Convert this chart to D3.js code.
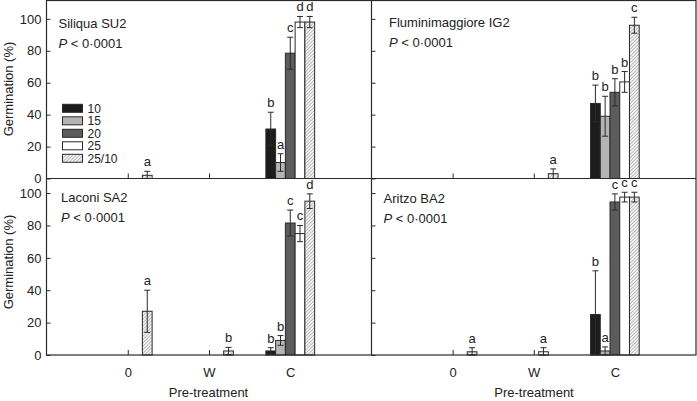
<!DOCTYPE html>
<html><head><meta charset="utf-8">
<script src="https://cdn.jsdelivr.net/npm/d3@7"></script>
<style>
html,body{margin:0;padding:0;background:#fff;}
svg{display:block;font-family:"Liberation Sans",Arial,Helvetica,sans-serif;}
</style></head>
<body>
<script>
// ---- data ----
const categories = ["0", "W", "C"];
const seriesNames = ["10", "15", "20", "25", "25/10"];
const yTicks = [0, 20, 40, 60, 80, 100];

// rows = series (10,15,20,25,25/10), columns = categories (0,W,C)
const siliquaMean = [[0,0,31],[0,0,10],[0,0,78.5],[0,0,98],[2,0,98]];
const siliquaErr  = [[0,0,10.5],[0,0,5.5],[0,0,10],[0,0,3.5],[2.5,0,3.5]];
const siliquaLetters = [["","","b"],["","","a"],["","","c"],["","","d"],["a","","d"]];

const flumiMean = [[0,0,47],[0,0,39],[0,0,54],[0,0,60.5],[0,3,96]];
const flumiErr  = [[0,0,11.5],[0,0,12.5],[0,0,8.5],[0,0,6.5],[0,3,5]];
const flumiLetters = [["","","b"],["","","b"],["","","b"],["","","b"],["","a","c"]];

const laconiMean = [[0,0,2.5],[0,0,9],[0,0,81.5],[0,0,75],[27,2.5,95]];
const laconiErr  = [[0,0,2],[0,0,3],[0,0,8],[0,0,5],[13,2.2,4.5]];
const laconiLetters = [["","","b"],["","","b"],["","","c"],["","","c"],["a","b","d"]];

const aritzoMean = [[0,0,25],[0,0,2.5],[0,0,94.5],[0,2,97.5],[2,0,97.5]];
const aritzoErr  = [[0,0,27],[0,0,2.5],[0,0,5],[0,2.5,3],[2.5,0,3]];
const aritzoLetters = [["","","b"],["","","a"],["","","c"],["","a","c"],["a","","c"]];

const panelTitles = ["Siliqua SU2", "Fluminimaggiore IG2", "Laconi SA2", "Aritzo BA2"];

// ---- layout ----
const W = 697, H = 401;
const colX = [[46.5, 371.5], [371.5, 696]];
const rowY = [[178.5, 0.5, 111.5], [355, 178.5, 109]]; // [y0 px, top px, domain max]
const fills = ["#1c1c1c", "#b4b4b4", "#5c5c5c", "#ffffff", "url(#hatch)"];
const ink = "#2a2a2a";

const svg = d3.select("body").append("svg").attr("width", W).attr("height", H);
const defs = svg.append("defs");
const pat = defs.append("pattern").attr("id", "hatch").attr("patternUnits", "userSpaceOnUse")
  .attr("width", 2.4).attr("height", 2.4).attr("patternTransform", "rotate(45)");
pat.append("rect").attr("width", 2.4).attr("height", 2.4).attr("fill", "#f4f4f4");
pat.append("line").attr("x1", 0).attr("y1", 0).attr("x2", 0).attr("y2", 2.4)
  .attr("stroke", "#808080").attr("stroke-width", 0.9);

const panels = [
  {col: 0, row: 0, mean: siliquaMean, err: siliquaErr, letters: siliquaLetters, title: panelTitles[0], tx: 58.5, ty: 27.7, py: 47.7},
  {col: 1, row: 0, mean: flumiMean, err: flumiErr, letters: flumiLetters, title: panelTitles[1], tx: 389, ty: 26.5, py: 46.7},
  {col: 0, row: 1, mean: laconiMean, err: laconiErr, letters: laconiLetters, title: panelTitles[2], tx: 61, ty: 201.5, py: 221.7},
  {col: 1, row: 1, mean: aritzoMean, err: aritzoErr, letters: aritzoLetters, title: panelTitles[3], tx: 383.5, ty: 203.3, py: 222.7}
];

const barW = 0.12;

panels.forEach(p => {
  const [x0, x1] = colX[p.col];
  const [yb, yt, ymax] = rowY[p.row];
  const x = d3.scaleLinear().domain([0, 4]).range([x0, x1]);
  const y = d3.scaleLinear().domain([0, ymax]).range([yb, yt]);
  const g = svg.append("g");

  // y axis
  const ya = d3.axisLeft(y).tickValues(yTicks).tickSizeInner(-4).tickSizeOuter(0).tickPadding(5);
  if (p.col === 1) ya.tickFormat("");
  const yg = g.append("g").attr("transform", `translate(${x0},0)`).call(ya);
  yg.select(".domain").remove();
  yg.selectAll("line").attr("stroke", ink);
  yg.selectAll("text").attr("font-size", 13).attr("fill", "#222").attr("font-family", "Liberation Sans, Arial, sans-serif");

  // x axis
  const xa = d3.axisBottom(x).tickValues([1, 2, 3]).tickFormat((d, i) => categories[i])
    .tickSizeInner(-5).tickSizeOuter(0).tickPadding(12.5);
  if (p.row === 0) xa.tickFormat("");
  const xg = g.append("g").attr("transform", `translate(0,${yb})`).call(xa);
  xg.select(".domain").remove();
  xg.selectAll("line").attr("stroke", ink);
  xg.selectAll("text").attr("font-size", 13).attr("fill", "#222").attr("font-family", "Liberation Sans, Arial, sans-serif");

  // bars
  const items = [];
  seriesNames.forEach((s, si) => {
    categories.forEach((c, ci) => {
      items.push({si, ci, v: p.mean[si][ci], e: p.err[si][ci], l: p.letters[si][ci]});
    });
  });
  const cx = d => x(d.ci + 1 + (d.si - 2) * barW);
  const bars = items.filter(d => d.v > 0);
  g.selectAll("rect.bar").data(bars).enter().append("rect").attr("class", "bar")
    .attr("x", d => cx(d) - (x(barW) - x(0)) / 2)
    .attr("width", x(barW) - x(0))
    .attr("y", d => y(d.v))
    .attr("height", d => y(0) - y(d.v))
    .attr("fill", d => fills[d.si])
    .attr("stroke", ink).attr("stroke-width", 1);

  // error bars
  const eb = bars.filter(d => d.e > 0);
  const cap = 3;
  g.selectAll("path.err").data(eb).enter().append("path").attr("class", "err")
    .attr("d", d => {
      const xc = cx(d), t = y(d.v + d.e), b = y(Math.max(0, d.v - d.e));
      return `M${xc},${t}V${b}M${xc - cap},${t}H${xc + cap}M${xc - cap},${b}H${xc + cap}`;
    })
    .attr("fill", "none").attr("stroke", ink).attr("stroke-width", 1);

  // letters
  g.selectAll("text.let").data(items.filter(d => d.l)).enter().append("text").attr("class", "let")
    .attr("x", d => cx(d)).attr("y", d => y(d.v + d.e) - 5)
    .attr("text-anchor", "middle").attr("font-size", 13).attr("fill", "#222")
    .text(d => d.l);

  // titles
  g.append("text").attr("x", p.tx).attr("y", p.ty).attr("font-size", 13).attr("fill", "#222").text(p.title);
  const pt = g.append("text").attr("x", p.tx).attr("y", p.py).attr("font-size", 13).attr("fill", "#222");
  pt.append("tspan").attr("font-style", "italic").text("P");
  pt.append("tspan").text(" < 0·0001");
});

// frame
const frame = svg.append("g").attr("stroke", ink).attr("stroke-width", 1.2).attr("fill", "none");
frame.append("rect").attr("x", colX[0][0]).attr("y", rowY[0][1]).attr("width", colX[1][1] - colX[0][0]).attr("height", rowY[1][0] - rowY[0][1]);
frame.append("line").attr("x1", colX[0][1]).attr("x2", colX[0][1]).attr("y1", rowY[0][1]).attr("y2", rowY[1][0]);
frame.append("line").attr("x1", colX[0][0]).attr("x2", colX[1][1]).attr("y1", rowY[0][0]).attr("y2", rowY[0][0]);

// legend
const leg = svg.append("g");
seriesNames.forEach((s, i) => {
  const yy = 108.3 + i * 12.5;
  leg.append("rect").attr("x", 62.5).attr("y", yy - 4).attr("width", 20).attr("height", 8)
    .attr("fill", fills[i]).attr("stroke", ink).attr("stroke-width", 1);
  leg.append("text").attr("x", 87.5).attr("y", yy).attr("dy", "0.36em").attr("font-size", 12).attr("fill", "#222").text(s);
});

// axis titles
[89, 262].forEach(cy => {
  svg.append("text").attr("transform", `translate(13,${cy}) rotate(-90)`)
    .attr("text-anchor", "middle").attr("font-size", 13).attr("fill", "#222").text("Germination (%)");
});
[208.5, 534].forEach(cxx => {
  svg.append("text").attr("x", cxx).attr("y", 396.5).attr("text-anchor", "middle")
    .attr("font-size", 13).attr("fill", "#222").text("Pre-treatment");
});
</script>
</body></html>
